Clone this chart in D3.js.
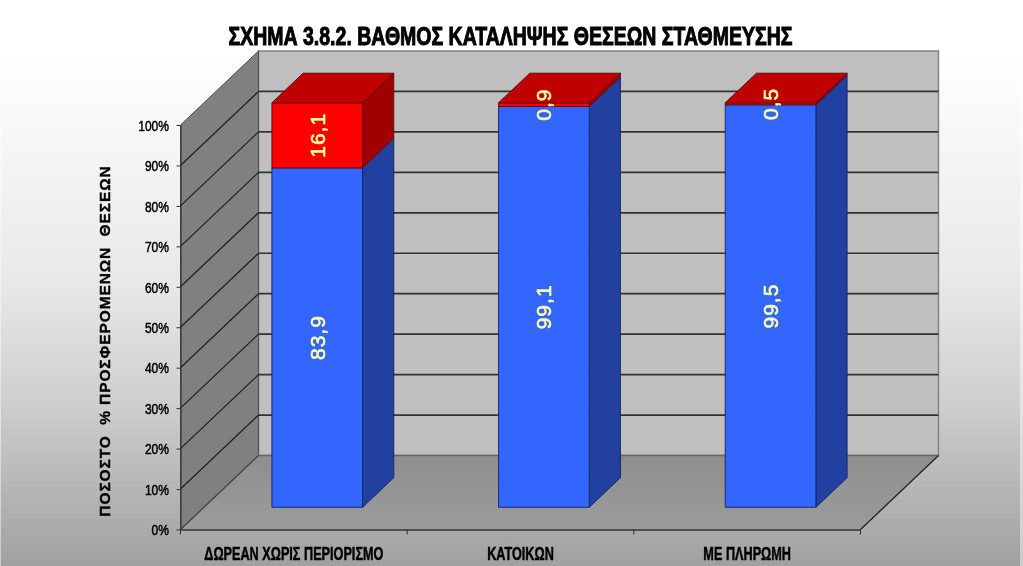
<!DOCTYPE html>
<html>
<head>
<meta charset="utf-8">
<script src="https://cdn.jsdelivr.net/npm/d3@7"></script>
<style>
  html, body { margin: 0; padding: 0; background: #fff; overflow: hidden; }
  text { font-family: "Liberation Sans", Arial, sans-serif; font-weight: bold; white-space: pre; }
</style>
</head>
<body>
<svg id="chart" width="1023" height="566"></svg>
<script>
// chart values
const categories = ['ΔΩΡΕΑΝ ΧΩΡΙΣ ΠΕΡΙΟΡΙΣΜΟ', 'ΚΑΤΟΙΚΩΝ', 'ΜΕ ΠΛΗΡΩΜΗ'];
const blueValues = [83.9, 99.1, 99.5];
const redValues = [16.1, 0.9, 0.5];
const yTicks = [0, 10, 20, 30, 40, 50, 60, 70, 80, 90, 100];
const title = 'ΣΧΗΜΑ 3.8.2. ΒΑΘΜΟΣ ΚΑΤΑΛΗΨΗΣ ΘΕΣΕΩΝ ΣΤΑΘΜΕΥΣΗΣ';
const yTitle = 'ΠΟΣΟΣΤΟ  % ΠΡΟΣΦΕΡΟΜΕΝΩΝ  ΘΕΣΕΩΝ';

const svg = d3.select('#chart');

// page background
const defs = svg.append('defs');
const bg = defs.append('linearGradient').attr('id', 'bg').attr('x2', 0).attr('y2', 1);
[[0, '#ffffff'], [0.1, '#ffffff'], [0.5, '#e8e8e8'], [0.72, '#cdcdcd'], [1, '#a0a0a0']].forEach(s =>
  bg.append('stop').attr('offset', s[0]).attr('stop-color', s[1]));
const floorFill = defs.append('linearGradient').attr('id', 'floor').attr('x2', 0).attr('y2', 1);
floorFill.append('stop').attr('offset', 0).attr('stop-color', '#8e8e8e');
floorFill.append('stop').attr('offset', 1).attr('stop-color', '#9c9c9c');
defs.append('filter').attr('id', 'soft').append('feGaussianBlur').attr('stdDeviation', 0.35);

svg.append('rect').attr('width', 1023).attr('height', 566).attr('fill', 'url(#bg)');

const root = svg.append('g').attr('filter', 'url(#soft)');

// front plane scales, the depth scale gives the oblique shift
const x = d3.scaleBand().domain(categories).range([180.5, 860.5]);
const y = d3.scaleLinear().domain([0, 100]).range([529.5, 125]);
const depthX = d3.scaleLinear().domain([0, 1]).range([0, 78]);
const depthY = d3.scaleLinear().domain([0, 1]).range([0, -74]);

// project a point (screen x on front plane, value, depth) to the page
const pt = (px, v, d) => [px + depthX(d), y(v) + depthY(d)];
const poly = pts => 'M' + pts.map(p => p.join(',')).join('L') + 'Z';

const x0 = x.range()[0], x1 = x.range()[1];

// walls and floor
root.append('path').attr('fill', '#bfbfbf').attr('stroke', '#808080').attr('stroke-width', 1.4)
  .attr('d', poly([pt(x0, 0, 1), pt(x0, 100, 1), pt(x1, 100, 1), pt(x1, 0, 1)]));
root.append('path').attr('fill', '#808080').attr('stroke', '#4d4d4d').attr('stroke-width', 1)
  .attr('d', poly([pt(x0, 0, 0), pt(x0, 100, 0), pt(x0, 100, 1), pt(x0, 0, 1)]));
root.append('path').attr('fill', 'url(#floor)')
  .attr('d', poly([pt(x0, 0, 0), pt(x0, 0, 1), pt(x1, 0, 1), pt(x1, 0, 0)]));
root.append('path').attr('fill', 'none').attr('stroke', '#666').attr('stroke-width', 1.4)
  .attr('d', 'M' + pt(x0, 0, 1) + 'L' + pt(x1, 0, 1));

// gridlines on the back wall and the left wall
root.append('g').selectAll('line').data(yTicks.filter(t => t > 0 && t < 100)).join('line')
  .attr('x1', pt(x0, 0, 1)[0]).attr('x2', pt(x1, 0, 1)[0])
  .attr('y1', d => pt(x0, d, 1)[1]).attr('y2', d => pt(x0, d, 1)[1])
  .attr('stroke', '#333').attr('stroke-width', 1.7);
root.append('g').selectAll('line').data(yTicks.filter(t => t < 100)).join('line')
  .attr('x1', pt(x0, 0, 0)[0]).attr('y1', d => pt(x0, d, 0)[1])
  .attr('x2', pt(x0, 0, 1)[0]).attr('y2', d => pt(x0, d, 1)[1])
  .attr('stroke', d => d === 0 ? '#444' : '#222').attr('stroke-width', 1.3);

// right edge of the floor
root.append('line')
  .attr('x1', pt(x1, 0, 0)[0]).attr('y1', pt(x1, 0, 0)[1])
  .attr('x2', pt(x1, 0, 1)[0]).attr('y2', pt(x1, 0, 1)[1])
  .attr('stroke', '#222').attr('stroke-width', 1.3);

// bars: gap width 150%, depth from 0.3 to 0.7 of the floor
const barInset = 0.3, barDepth0 = 0.3, barDepth1 = 0.7;

function drawBox(g, left, right, v0, v1, front, side, top, edge) {
  const a = barDepth0, b = barDepth1;
  g.append('path').attr('fill', side).attr('stroke', edge).attr('stroke-width', 0.9)
    .attr('d', poly([pt(right, v0, a), pt(right, v1, a), pt(right, v1, b), pt(right, v0, b)]));
  g.append('path').attr('fill', front).attr('stroke', edge).attr('stroke-width', 0.9)
    .attr('d', poly([pt(left, v0, a), pt(left, v1, a), pt(right, v1, a), pt(right, v0, a)]));
  if (top) {
    g.append('path').attr('fill', top).attr('stroke', edge).attr('stroke-width', 0.9)
      .attr('d', poly([pt(left, v1, a), pt(left, v1, b), pt(right, v1, b), pt(right, v1, a)]));
  }
}

categories.forEach((c, i) => {
  const left = x(c) + x.bandwidth() * barInset;
  const right = left + x.bandwidth() * (1 - 2 * barInset);
  const g = root.append('g');
  drawBox(g, left, right, 0, blueValues[i], '#3366ff', '#2040a0', null, '#14245e');
  drawBox(g, left, right, blueValues[i], blueValues[i] + redValues[i], '#ff0000', '#a00000', '#c00000', '#5e0a0a');
});

// value labels, turned sideways in the middle of each segment
function valueLabel(c, start, v) {
  const px = x(c) + x.bandwidth() / 2;
  const p = pt(px, start + v / 2, barDepth0);
  root.append('text')
    .attr('transform', `translate(${p[0] + 7.5},${p[1]}) rotate(-90)`)
    .attr('text-anchor', 'middle')
    .attr('font-size', 21)
    .attr('letter-spacing', 1)
    .style('font-weight', 'normal')
    .attr('fill', '#ffffa8')
    .attr('stroke', '#ffffa8').attr('stroke-width', 0.6)
    .text(String(v).replace('.', ','));
}
categories.forEach((c, i) => {
  valueLabel(c, 0, blueValues[i]);
  valueLabel(c, blueValues[i], redValues[i]);
});

// squeeze a text to a share of its natural width
function squeeze(sel, ratio) {
  sel.each(function () {
    const len = this.getComputedTextLength();
    d3.select(this).attr('textLength', len * ratio).attr('lengthAdjust', 'spacingAndGlyphs');
  });
}

// y axis
const yAxis = root.append('g').attr('transform', `translate(${x0},0)`)
  .call(d3.axisLeft(y).tickValues(yTicks).tickFormat(d => d + '%').tickSize(4).tickSizeOuter(0));
yAxis.select('.domain').attr('stroke', '#333').attr('stroke-width', 1.2);
yAxis.selectAll('.tick line').attr('stroke', '#333');
yAxis.selectAll('text').attr('font-size', 14.5).attr('fill', '#000').attr('x', -11.5).attr('dy', '0.36em')
  .style('font-family', '"Liberation Sans", Arial, sans-serif').style('font-weight', 'normal')
  .attr('stroke', '#000').attr('stroke-width', 0.5)
  .call(squeeze, 0.83);

// x axis: labels in the middle of each band, ticks on the band edges
const xAxis = root.append('g').attr('transform', `translate(0,${y(0)})`)
  .call(d3.axisBottom(x).tickSize(0).tickPadding(17));
xAxis.select('.domain').attr('stroke', '#333').attr('stroke-width', 1.5);
xAxis.selectAll('text').attr('font-size', 18.5).attr('fill', '#000')
  .style('font-family', '"Liberation Sans", Arial, sans-serif').style('font-weight', 'bold')
  .attr('stroke', '#000').attr('stroke-width', 0.5)
  .call(squeeze, 0.685);
root.append('g').selectAll('line')
  .data(categories.map(c => x(c)).concat([x1])).join('line')
  .attr('x1', d => d).attr('x2', d => d)
  .attr('y1', y(0)).attr('y2', y(0) + 5)
  .attr('stroke', '#333').attr('stroke-width', 1);

// titles
root.append('text')
  .attr('x', 510.5).attr('y', 44.5)
  .attr('text-anchor', 'middle')
  .attr('font-size', 25.5)
  .attr('fill', '#000').attr('stroke', '#000').attr('stroke-width', 1)
  .text(title)
  .call(squeeze, 0.765);

root.append('text')
  .attr('transform', 'translate(110,341) rotate(-90)')
  .attr('text-anchor', 'middle')
  .attr('font-size', 15.5)
  .attr('fill', '#000').attr('stroke', '#000').attr('stroke-width', 0.3)
  .attr('letter-spacing', 0.9)
  .text(yTitle);

// thin light strips at the picture edges
svg.append('rect').attr('x', 1020).attr('width', 3).attr('height', 566).attr('fill', '#fff').attr('opacity', 0.45);
svg.append('rect').attr('x', 0).attr('width', 1).attr('height', 566).attr('fill', '#fff').attr('opacity', 0.45);
</script>
</body>
</html>
